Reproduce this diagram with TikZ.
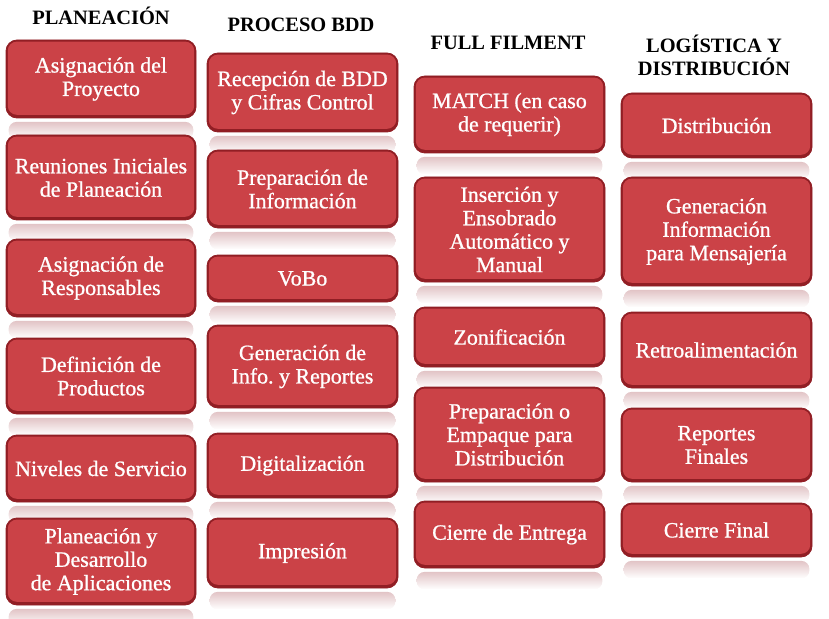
\documentclass[tikz,border=0pt]{standalone}
\usepackage{fontspec}
\setmainfont{Liberation Serif}
\newfontfamily\boxfont[FakeBold=0.9]{Liberation Serif}
\definecolor{boxred}{RGB}{203,66,71}
\definecolor{boxdark}{RGB}{145,30,36}
\definecolor{refl}{RGB}{226,196,198}
\tikzset{
  box/.style={rectangle, rounded corners=11bp, fill=boxdark, draw=boxdark, line width=0.8bp,
    text=white, align=center, inner sep=0pt, font=\boxfont\fontsize{22}{23.5}\selectfont,
    path picture={\fill[boxred, rounded corners=9bp]
      ([xshift=1.8bp,yshift=-1.6bp]path picture bounding box.north west) rectangle
      ([xshift=-1.8bp,yshift=3.2bp]path picture bounding box.south east);}},
  hdr/.style={align=center, inner sep=0pt, text=black, font=\bfseries\fontsize{20.5}{23}\selectfont},
  reflect/.style={top color=refl, bottom color=white, rounded corners=8bp}
}
\newcommand\rbox[6]{%
  \node[box, minimum width={(#4-#2)*1bp}, minimum height={(#5-#3)*1bp}] (#1) at ({(#2+#4)/2},{(#3+#5)/2}) {#6};
  \shade[reflect] ([xshift=3bp,yshift=-3.5bp]#1.south west) rectangle ([xshift=-3bp,yshift=-21bp]#1.south east);
}
\begin{document}
\frenchspacing
\begin{tikzpicture}[x=1bp,y=-1bp]
\useasboundingbox (0,0) rectangle (829,619);
% headers
\node[hdr] (h1) at (101,16) {PLANEACIÓN};
\node[hdr] (h2) at (301,25) {PROCESO BDD};
\node[hdr] (h3) at (508,43) {FULL FILMENT};
\node[hdr] (h4) at (714,55) {LOGÍSTICA Y\\DISTRIBUCIÓN};
% column 1
\rbox{a1}{6}{40}{196}{118}{Asignación del\\Proyecto}
\rbox{a2}{6}{135}{196}{220}{Reuniones Iniciales\\de Planeación}
\rbox{a3}{6}{239}{196}{317}{Asignación de\\Responsables}
\rbox{a4}{6}{338}{196}{414}{Definición de\\Productos}
\rbox{a5}{6}{435}{196}{502}{Niveles de Servicio}
\rbox{a6}{6}{518}{196}{605}{Planeación y\\Desarrollo\\de Aplicaciones}
% column 2
\rbox{b1}{207}{53}{398}{132}{Recepción de BDD\\y Cifras Control}
\rbox{b2}{207}{150}{398}{228}{Preparación de\\Información}
\rbox{b3}{207}{255}{398}{302}{VoBo}
\rbox{b4}{207}{325}{398}{408}{Generación de\\Info. y Reportes}
\rbox{b5}{207}{433}{398}{498}{Digitalización}
\rbox{b6}{207}{518}{398}{588}{Impresión}
% column 3
\rbox{c1}{414}{76}{605}{153}{MATCH (en caso\\de requerir)}
\rbox{c2}{414}{177}{605}{282}{Inserción y\\Ensobrado\\Automático y\\Manual}
\rbox{c3}{414}{307}{605}{367}{Zonificación}
\rbox{c4}{414}{387}{605}{482}{Preparación o\\Empaque para\\Distribución}
\rbox{c5}{414}{501}{605}{568}{Cierre de Entrega}
% column 4
\rbox{d1}{621}{93}{812}{158}{Distribución}
\rbox{d2}{621}{177}{812}{286}{Generación\\Información\\para Mensajería}
\rbox{d3}{621}{312}{812}{388}{Retroalimentación}
\rbox{d4}{621}{408}{812}{482}{Reportes\\Finales}
\rbox{d5}{621}{503}{812}{557}{Cierre Final}
\end{tikzpicture}
\end{document}
